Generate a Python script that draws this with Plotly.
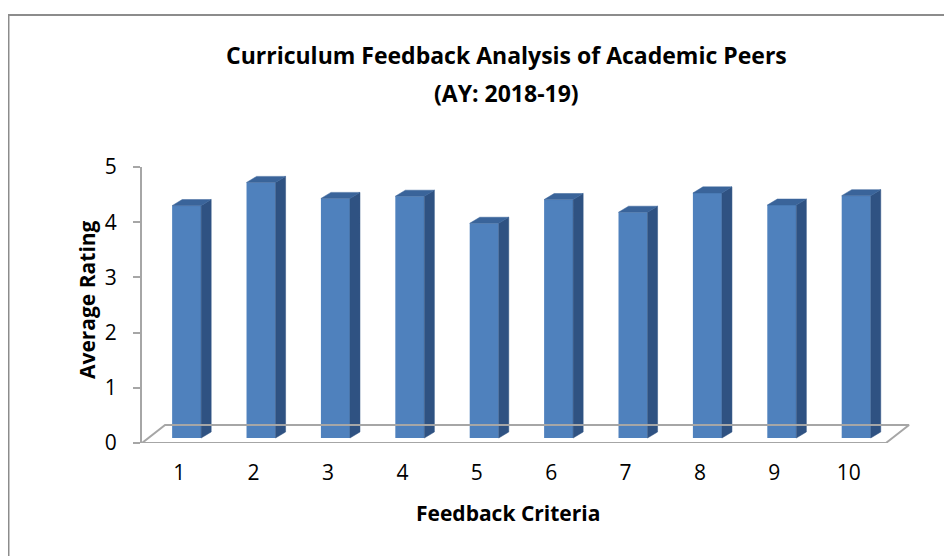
import plotly.graph_objects as go

# criteria numbers and average ratings
criteria = [1, 2, 3, 4, 5, 6, 7, 8, 9, 10]
ratings = [4.21, 4.63, 4.34, 4.38, 3.89, 4.32, 4.09, 4.44, 4.22, 4.39]
y_ticks = [0, 1, 2, 3, 4, 5]
title_lines = ['Curriculum Feedback Analysis of Academic Peers', '(AY: 2018-19)']

# fake 3d settings (data units)
bar_w = 0.39
bar_shift = 0.1      # bars sit a little behind the front edge of the floor
bar_base = 0.09
side_dx = 0.135
side_dy = 0.11
floor_dx = 0.31
floor_dy = 0.326

front_col = "#4F81BD"
side_col = "#2F5282"
top_col = "#3A649A"
grey = "#A6A6A6"
font_name = 'Open Sans'

fig = go.Figure()

# front faces
fig.add_trace(go.Bar(
    x=[c + bar_shift for c in criteria],
    y=ratings,
    base=bar_base,
    width=bar_w,
    marker=dict(color=front_col, line=dict(width=0)),
    showlegend=False,
    hoverinfo='y'
))

# side and top faces built from the same values
side_x, side_y, top_x, top_y = [], [], [], []
for c, v in zip(criteria, ratings):
    xl = c + bar_shift - bar_w / 2
    xr = c + bar_shift + bar_w / 2
    yt = bar_base + v
    side_x += [xr, xr + side_dx, xr + side_dx, xr, xr, None]
    side_y += [bar_base, bar_base + side_dy, yt + side_dy, yt, bar_base, None]
    top_x += [xl, xr, xr + side_dx, xl + side_dx, xl, None]
    top_y += [yt, yt, yt + side_dy, yt + side_dy, yt, None]

fig.add_trace(go.Scatter(
    x=side_x, y=side_y, mode='lines', fill='toself',
    fillcolor=side_col, line=dict(color=side_col, width=0.5),
    showlegend=False, hoverinfo='skip'
))
fig.add_trace(go.Scatter(
    x=top_x, y=top_y, mode='lines', fill='toself',
    fillcolor=top_col, line=dict(color=top_col, width=0.5),
    showlegend=False, hoverinfo='skip'
))

# floor outline
x0 = criteria[0] - 0.5
x1 = criteria[-1] + 0.5
floor_x = [x0, x1, x1 + floor_dx, x0 + floor_dx, x0]
floor_y = [0, 0, floor_dy, floor_dy, 0]
fig.add_trace(go.Scatter(
    x=floor_x, y=floor_y, mode='lines',
    line=dict(color=grey, width=2),
    showlegend=False, hoverinfo='skip'
))

# page has an 8px body margin, so the figure is 8px smaller than the window
fig.update_layout(
    width=944,
    height=548,
    margin=dict(l=134, r=40, t=159, b=113),
    plot_bgcolor='white',
    paper_bgcolor='white',
    font=dict(family=font_name, color='black'),
    xaxis=dict(
        range=[x0, 10.85],
        tickmode='array',
        tickvals=criteria,
        ticktext=[str(c) for c in criteria],
        showline=False,
        showgrid=False,
        zeroline=False,
        ticks='',
        tickfont=dict(size=21),
        ticklabelstandoff=15,
    ),
    yaxis=dict(
        range=[0, 5],
        tickvals=y_ticks,
        showline=True,
        linecolor=grey,
        linewidth=2,
        showgrid=False,
        zeroline=False,
        ticks='outside',
        ticklen=7,
        tickwidth=2,
        tickcolor=grey,
        tickfont=dict(size=21),
        ticklabelstandoff=12,
    ),
    annotations=[
        dict(text='<b>' + title_lines[0] + '</b>', xref='paper', yref='paper',
             x=0.474, y=1.4058, xanchor='center', yanchor='middle',
             showarrow=False, font=dict(size=23)),
        dict(text='<b>' + title_lines[1] + '</b>', xref='paper', yref='paper',
             x=0.474, y=1.2681, xanchor='center', yanchor='middle',
             showarrow=False, font=dict(size=23)),
        dict(text='<b>Feedback Criteria</b>', xref='paper', yref='paper',
             x=0.475, y=-0.2536, xanchor='center', yanchor='middle',
             showarrow=False, font=dict(size=21)),
        dict(text='<b>Average Rating</b>', xref='paper', yref='paper',
             x=-0.0714, y=0.518, xanchor='center', yanchor='middle',
             textangle=-90, showarrow=False, font=dict(size=21)),
    ],
    shapes=[
        dict(type='rect', xref='paper', yref='paper',
             x0=-0.1734, x1=2, y0=-2, y1=1.5507,
             line=dict(color='#8C8C8C', width=2), layer='below'),
    ],
)

fig.write_html("out.html")
